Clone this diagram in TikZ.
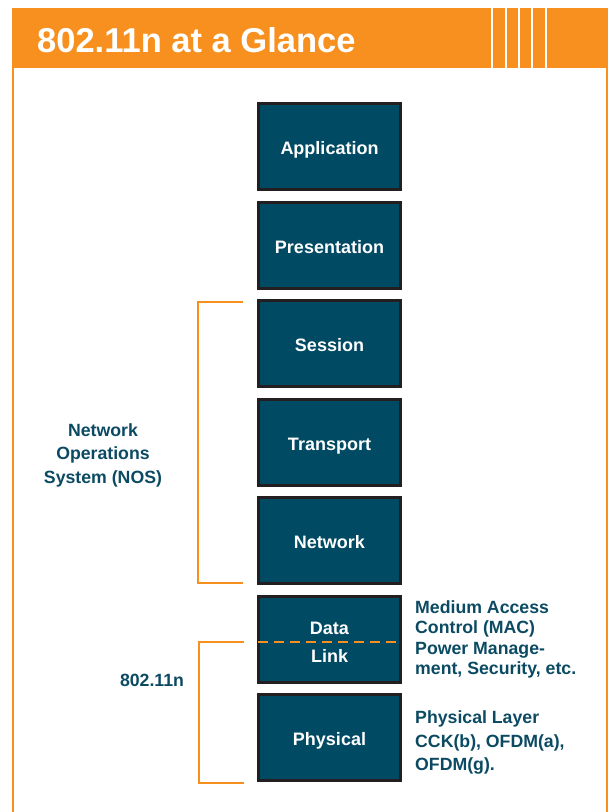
\documentclass[tikz,border=0pt]{standalone}
\usepackage{fontspec}
\setmainfont{Liberation Sans}
\definecolor{orng}{HTML}{F7901E}
\definecolor{boxfill}{HTML}{004A63}
\definecolor{boxline}{HTML}{231F20}
\definecolor{labeltxt}{HTML}{0B4A62}
\begin{document}
\begin{tikzpicture}[x=1pt,y=-1pt,
  layer/.style={draw=boxline, fill=boxfill, line width=3pt, minimum width=142pt,
    minimum height=86pt, text=white, align=center, text height=16.6pt, text depth=0pt,
    font=\fontsize{18}{28}\selectfont\bfseries, inner sep=0pt},
  lbl/.style={text=labeltxt, font=\fontsize{17.7}{23.5}\selectfont\bfseries, align=center, inner sep=0pt},
  desc/.style={text=labeltxt, anchor=west, align=left, inner sep=0pt},
  brk/.style={draw=orng, line width=2pt},
  dashbrk/.style={draw=orng, line width=2pt, dash pattern=on 10pt off 6pt},
  stripe/.style={draw=white, line width=2pt}]
\useasboundingbox (0,0) rectangle (608,812);
% frame
\fill[orng] (12,8) rectangle (608,68);
\foreach \sx in {492,505.5,519,532.3,545.6} \draw[stripe] (\sx,8) -- (\sx,68);
\draw[orng, line width=2.2pt] (12.9,68) -- (12.9,812);
\draw[orng, line width=2pt] (606.6,68) -- (606.6,812);
\node[anchor=base west, text=white, inner sep=0pt, font=\fontsize{34.5}{40}\selectfont\bfseries] (title) at (37,52) {802.11n at a Glance};
% layers
\node[layer] (app) at (329.5,146.5) {Application};
\node[layer] (pres) at (329.5,245) {Presentation};
\node[layer] (sess) at (329.5,343.5) {Session};
\node[layer] (trans) at (329.5,442.5) {Transport};
\node[layer] (net) at (329.5,540.5) {Network};
\node[layer, text height=, text depth=] (dl) at (329.5,639) {\raisebox{0pt}[\dimexpr\height+7.5pt\relax][\depth]{\begin{tabular}{@{}c@{}}Data\\Link\end{tabular}}};
\node[layer] (phy) at (329.5,737.5) {Physical};
% NOS bracket
\coordinate (n1) at (243,302);
\coordinate (n2) at (198,302);
\coordinate (n3) at (198,583);
\coordinate (n4) at (243,583);
\draw[brk] (n1) -- (n2) -- (n3) -- (n4);
\node[lbl] (nos) at (103,455) {Network\\Operations\\System (NOS)};
% 802.11n bracket
\coordinate (w1) at (244,642);
\coordinate (w2) at (199,642);
\coordinate (w3) at (199,783);
\coordinate (w4) at (244,783);
\draw[brk] (w1) -- (w2) -- (w3) -- (w4);
\coordinate (d1) at (258,642);
\coordinate (d2) at (402,642);
\draw[dashbrk] (d1) -- (d2);
\node[lbl] (wifi) at (152,680) {802.11n};
% descriptions
\node[desc, font=\fontsize{17.7}{20.5}\selectfont\bfseries] (mac) at (415,639.5) {Medium Access\\Control (MAC)\\Power Manage-\\ment, Security, etc.};
\node[desc, font=\fontsize{17.7}{23.2}\selectfont\bfseries] (phyd) at (415,742.5) {Physical Layer\\CCK(b), OFDM(a),\\OFDM(g).};
\end{tikzpicture}
\end{document}
